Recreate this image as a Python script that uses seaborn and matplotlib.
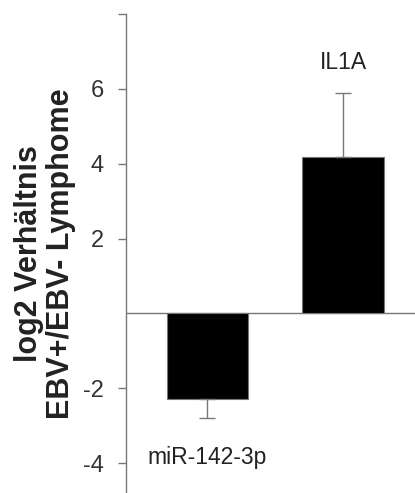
import numpy as np
import matplotlib
matplotlib.use("Agg")
import matplotlib.pyplot as plt
import seaborn as sns

# Data
genes = ["miR-142-3p", "IL1A"]
log2_ratio = [-2.29, 4.19]
sem = [0.51, 1.70]
y_ticks = [-4, -2, 2, 4, 6, 8]
y_ticklabels = ["-4", "-2", "2", "4", "6", ""]

sns.set_style("white")
plt.rcParams["font.family"] = ["Liberation Sans", "DejaVu Sans"]

fig = plt.figure(figsize=(4.15, 4.93), dpi=100)
ax = fig.add_axes([0.3036, 0.0, 0.6964, 0.9716])

sns.barplot(x=genes, y=log2_ratio, color="black", width=0.6,
            edgecolor="#777777", linewidth=0.8, saturation=1, ax=ax)

# one-sided error bars (away from zero)
lower = [e if v < 0 else 0 for v, e in zip(log2_ratio, sem)]
upper = [e if v > 0 else 0 for v, e in zip(log2_ratio, sem)]
ax.errorbar(np.arange(len(genes)), log2_ratio, yerr=[lower, upper], fmt="none",
            ecolor="#777777", elinewidth=1, capsize=6, capthick=1)

ax.axhline(0, color="#777777", linewidth=1, zorder=0)

ax.set_xlim(-0.6, 1.53)
ax.set_ylim(-4.8, 8)
ax.set_yticks(y_ticks)
ax.set_yticklabels(y_ticklabels, fontsize=17, color="#333333")
ax.set_xticks([])
ax.tick_params(axis="y", direction="out", length=6, width=1, color="#777777",
               left=True, pad=10)

for side in ["top", "right", "bottom"]:
    ax.spines[side].set_visible(False)
ax.spines["left"].set_color("#777777")
ax.spines["left"].set_linewidth(1)

ax.set_ylabel("log2 Verhältnis\nEBV+/EBV- Lymphome", fontsize=22,
              fontweight="bold", color="#222222", labelpad=5, linespacing=1.1)

# gene labels
ax.text(0, -3.85, genes[0], ha="center", va="center", fontsize=16.5, color="#222222")
ax.text(1, 6.7, genes[1], ha="center", va="center", fontsize=16.5, color="#222222")

fig.savefig("out.png", dpi=100)
